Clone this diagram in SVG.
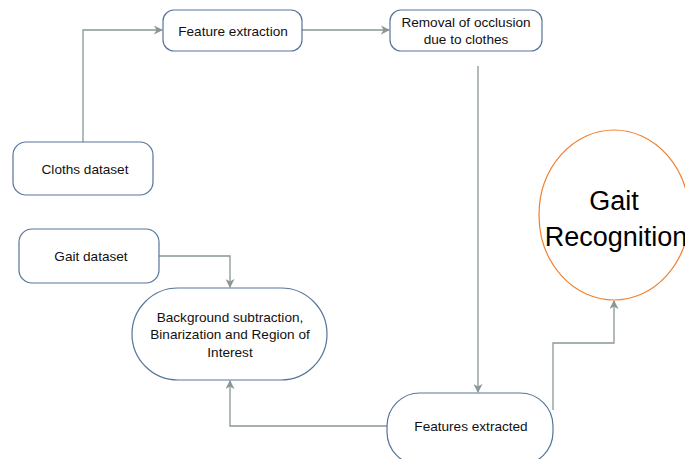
<svg xmlns="http://www.w3.org/2000/svg" width="685" height="459" viewBox="0 0 685 459">
<style>
.n{fill:#fff;stroke:#56759a;stroke-width:1.2}
.t{font-family:"Liberation Sans",Arial,sans-serif;font-size:13.6px;fill:#111;text-anchor:middle}
.c{fill:none;stroke:#8a9696;stroke-width:1.3}
.big{font-family:"Liberation Sans",Arial,sans-serif;font-size:27px;fill:#000;text-anchor:middle}
</style>
<defs>
<marker id="a" viewBox="0 0 10 10" refX="9" refY="5" markerWidth="9" markerHeight="9" markerUnits="userSpaceOnUse" orient="auto">
<path d="M0,0 L10,5 L0,10 L3,5 z" fill="#8a9696"/>
</marker>
</defs>
<rect width="685" height="459" fill="#fff"/>
<g id="connectors">
<path class="c" d="M83,142 V30 H162" marker-end="url(#a)"/>
<path class="c" d="M302,30 H389" marker-end="url(#a)"/>
<path class="c" d="M478,66 V392" stroke="#b0bcbc" marker-end="url(#a)"/>
<path class="c" d="M159,256 H230 V287" marker-end="url(#a)"/>
<path class="c" d="M387,426 H230 V381" marker-end="url(#a)"/>
<path class="c" d="M553,410 V343 H614 V301" marker-end="url(#a)"/>
</g>
<g id="feature-extraction">
<rect class="n" x="163" y="10" width="139" height="41" rx="11"/>
<text class="t" x="233" y="36">Feature extraction</text>
</g>
<g id="removal">
<rect class="n" x="390" y="10" width="152" height="41" rx="11"/>
<text class="t" x="466" y="27">Removal of occlusion</text>
<text class="t" x="466" y="44">due to clothes</text>
</g>
<g id="cloths-dataset">
<rect class="n" x="13" y="142" width="140" height="53" rx="13"/>
<text class="t" x="85" y="174">Cloths dataset</text>
</g>
<g id="gait-dataset">
<rect class="n" x="19" y="229" width="140" height="54" rx="13"/>
<text class="t" x="91" y="261">Gait dataset</text>
</g>
<g id="background">
<rect class="n" x="132" y="288" width="195" height="92" rx="46"/>
<text class="t" x="230" y="322">Background subtraction,</text>
<text class="t" x="230" y="339">Binarization and Region of</text>
<text class="t" x="230" y="357">Interest</text>
</g>
<g id="features-extracted">
<rect class="n" x="387" y="393" width="166" height="72" rx="33"/>
<text class="t" x="471" y="431">Features extracted</text>
</g>
<g id="gait-recognition">
<ellipse cx="614" cy="215" rx="75" ry="85" fill="#fff" stroke="#f08030" stroke-width="1.2"/>
<text class="big" x="614" y="210">Gait</text>
<text class="big" x="616" y="246">Recognition</text>
</g>
</svg>
